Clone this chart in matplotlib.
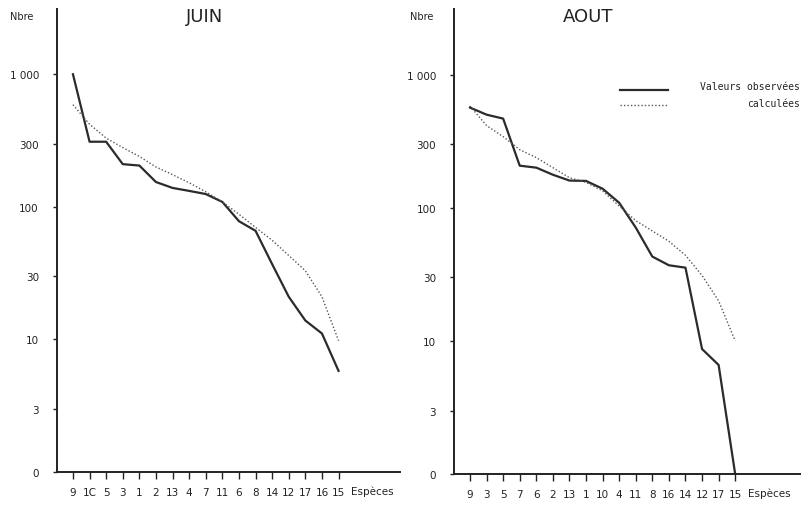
import matplotlib.pyplot as plt
from matplotlib.lines import Line2D
import matplotlib.transforms as mtransforms

# species order along the x axis (rank order)
juin_especes = ['9', '1C', '5', '3', '1', '2', '13', '4', '7', '11', '6', '8', '14', '12', '17', '16', '15']
aout_especes = ['9', '3', '5', '7', '6', '2', '13', '1', '10', '4', '11', '8', '16', '14', '12', '17', '15']

# numbers per species (value 1 plotted on the "0" line)
juin_observe = [1000, 310, 310, 210, 205, 154, 139, 132, 125, 109, 78, 66, 37, 21, 13.9, 11.1, 5.8]
juin_calcule = [590, 420, 330, 280, 240, 200, 175, 152, 130, 109, 88, 70, 56, 43, 33, 21, 9.8]

aout_observe = [565, 500, 467, 207, 200, 177, 160, 159, 139, 109, 71, 43, 37, 35.5, 8.7, 6.6, 1]
aout_calcule = [580, 414, 342, 273, 238, 200, 168, 155, 134, 103, 80, 67, 56, 44, 31, 20, 10]

y_ticks = [1, 3, 10, 30, 100, 300, 1000]
y_labels = ['0', '3', '10', '30', '100', '300', '1 000']


def draw_panel(ax, especes, observe, calcule, titre, titre_x, xmax):
    x = list(range(len(especes)))
    ax.plot(x, observe, color='#2b2b2b', lw=1.6, solid_joinstyle='round')
    ax.plot(x, calcule, color='#555555', lw=1.0, ls=(0, (1, 1.5)))
    ax.set_yscale('log')
    ax.set_ylim(1, 3100)
    ax.set_xlim(-0.964, xmax)
    ax.set_yticks(y_ticks)
    ax.set_yticklabels(y_labels)
    ax.minorticks_off()
    ax.set_xticks(x)
    ax.set_xticklabels(especes)
    ax.tick_params(axis='x', direction='out', length=5, width=1, pad=6,
                   labelsize=7.5, colors='#222222')
    ax.tick_params(axis='y', direction='out', length=3, width=1, pad=10,
                   labelsize=7.5, colors='#222222')
    for s in ['top', 'right']:
        ax.spines[s].set_visible(False)
    for s in ['left', 'bottom']:
        ax.spines[s].set_linewidth(1.4)
        ax.spines[s].set_color('#222222')
    trans = mtransforms.blended_transform_factory(ax.transData, ax.transAxes)
    ax.text(16.75, -0.041, 'Espèces', transform=trans, fontsize=7.5,
            ha='left', va='center', color='#222222')
    ax.text(titre_x, 0.985, titre, transform=ax.transAxes, fontsize=13,
            ha='center', va='center', color='#222222')


fig = plt.figure(figsize=(8.08, 5.06), dpi=100)
ax1 = fig.add_axes([0.0705, 0.065, 0.4245, 0.915])
ax2 = fig.add_axes([0.5619, 0.061, 0.428, 0.919])

draw_panel(ax1, juin_especes, juin_observe, juin_calcule, 'JUIN', 0.43, 19.7)
draw_panel(ax2, aout_especes, aout_observe, aout_calcule, 'AOUT', 0.387, 19.9)

fig.text(0.012, 0.96, 'Nbre', fontsize=7, color='#222222')
fig.text(0.508, 0.96, 'Nbre', fontsize=7, color='#222222')

# legend drawn by hand in the right panel
ax2.add_line(Line2D([0.48, 0.62], [0.827, 0.827], transform=ax2.transAxes,
                    color='#2b2b2b', lw=1.6))
ax2.add_line(Line2D([0.48, 0.62], [0.793, 0.793], transform=ax2.transAxes,
                    color='#555555', lw=1.0, ls=(0, (1, 1.5))))
ax2.text(1.0, 0.835, 'Valeurs observées', transform=ax2.transAxes,
         fontsize=7, ha='right', va='center', family='DejaVu Sans Mono', color='#222222')
ax2.text(1.0, 0.799, 'calculées', transform=ax2.transAxes,
         fontsize=7, ha='right', va='center', family='DejaVu Sans Mono', color='#222222')

fig.savefig('out.png', dpi=100)
